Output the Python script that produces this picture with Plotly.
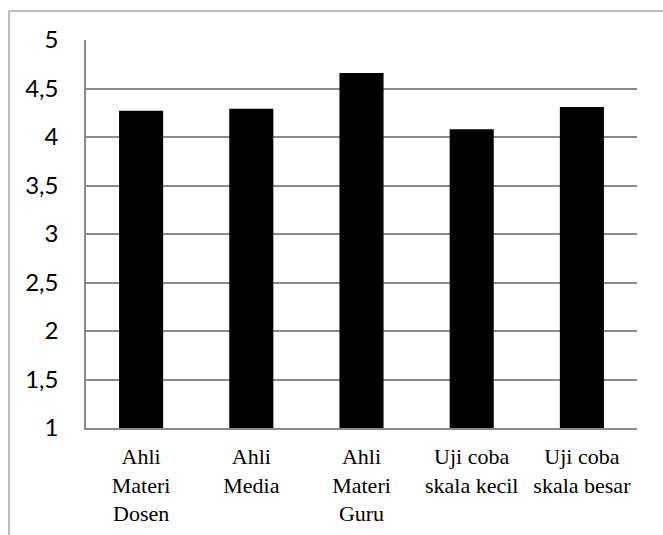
import plotly.graph_objects as go

# Category labels (multi-line) and mean scores
categories = ["Ahli<br>Materi<br>Dosen", "Ahli<br>Media", "Ahli<br>Materi<br>Guru",
              "Uji coba<br>skala kecil", "Uji coba<br>skala besar"]
scores = [4.27, 4.29, 4.66, 4.08, 4.31]
tick_vals = [1, 1.5, 2, 2.5, 3, 3.5, 4, 4.5, 5]
tick_text = ["1", "1,5", "2", "2,5", "3", "3,5", "4", "4,5", "5"]

W, H = 663, 535
L, R, T, B = 86, 26, 40, 107

fig = go.Figure(
    go.Bar(
        x=categories,
        y=scores,
        marker=dict(color="#000000", line=dict(width=0)),
        hoverinfo="x+y",
    )
)

plot_w = W - L - R
plot_h = H - T - B
# outer chart frame (left and top edges visible)
fx0 = (9 - L) / plot_w
fy1 = 1 + (T - 11) / plot_h

fig.update_layout(
    width=W,
    height=H,
    margin=dict(l=L, r=R, t=T, b=B, pad=0),
    paper_bgcolor="white",
    plot_bgcolor="white",
    bargap=0.6,
    showlegend=False,
    shapes=[
        dict(type="line", xref="paper", yref="paper", x0=fx0, x1=fx0, y0=-1, y1=fy1,
             line=dict(color="#a3a3a3", width=1.5)),
        dict(type="line", xref="paper", yref="paper", x0=fx0, x1=2, y0=fy1, y1=fy1,
             line=dict(color="#a3a3a3", width=1.5)),
    ],
    xaxis=dict(
        automargin=False,
        showgrid=False,
        showline=True,
        linecolor="#8a8a8a",
        linewidth=1.5,
        ticks="outside",
        ticklen=8,
        tickcolor="rgba(0,0,0,0)",
        tickfont=dict(family="Liberation Serif", size=22, color="#000000"),
        tickangle=0,
    ),
    yaxis=dict(
        automargin=False,
        range=[1, 5],
        tickvals=tick_vals,
        ticktext=tick_text,
        showgrid=True,
        gridcolor="#8a8a8a",
        gridwidth=1.5,
        showline=True,
        linecolor="#8a8a8a",
        linewidth=1.5,
        zeroline=False,
        ticks="outside",
        ticklen=21,
        tickcolor="rgba(0,0,0,0)",
        tickfont=dict(family="Lato", size=24, color="#000000"),
    ),
)

fig.write_html("out.html")
